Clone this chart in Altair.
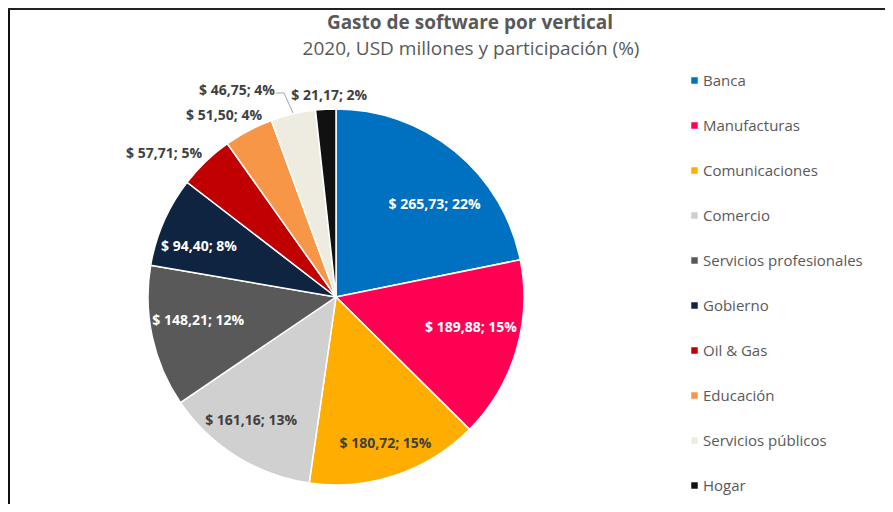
import altair as alt
import pandas as pd

categories = ["Banca", "Manufacturas", "Comunicaciones", "Comercio",
              "Servicios profesionales", "Gobierno", "Oil & Gas",
              "Educación", "Servicios públicos", "Hogar"]
values = [265.73, 189.88, 180.72, 161.16, 148.21, 94.40, 57.71, 51.50, 46.75, 21.17]
shares = [22, 15, 15, 13, 12, 8, 5, 4, 4, 2]
colors = ["#0070C0", "#FF0052", "#FFAD00", "#D0D0D0", "#595959",
          "#0F2441", "#C00000", "#F79646", "#EEECE1", "#111111"]
title_text = "Gasto de software por vertical"
subtitle_text = "2020, USD millones y participación (%)"


def fmt(v, p):
    return "$ " + f"{v:.2f}".replace(".", ",") + f"; {p}%"


df = pd.DataFrame({
    "cat": categories,
    "val": values,
    "order": list(range(len(categories))),
    "label": [fmt(v, p) for v, p in zip(values, shares)],
})

FONT = "Open Sans"
CX, CY, R = 328, 289, 188
WHITE, DARK = "white", "#404040"

base = alt.Chart(df).encode(
    theta=alt.Theta("val:Q", stack=True),
    order=alt.Order("order:Q"),
)

pie = base.mark_arc(radius=R, stroke="white", strokeWidth=1.5).encode(
    x=alt.value(CX), y=alt.value(CY),
    color=alt.Color("cat:N", scale=alt.Scale(domain=categories, range=colors),
                    sort=categories,
                    legend=alt.Legend(title=None, orient="none", legendX=679, legendY=65,
                                      symbolType="square", symbolSize=42,
                                      symbolStrokeWidth=0, labelFont=FONT,
                                      labelFontSize=15, labelColor="#595959",
                                      rowPadding=29, labelOffset=1, padding=0)),
)


def label_layer(cat, radius, color, dx=0, dy=0):
    return base.mark_text(radius=radius, font=FONT, fontSize=14, fontWeight="bold",
                          color=color, dx=dx, dy=dy).encode(
        x=alt.value(CX), y=alt.value(CY), text="label:N",
        opacity=alt.condition(alt.datum.cat == cat, alt.value(1), alt.value(0)),
    )


labels = [
    label_layer("Banca", 143, WHITE, dx=8, dy=19),
    label_layer("Manufacturas", 143, WHITE, dx=-2, dy=-10),
    label_layer("Comunicaciones", 143, DARK, dx=4, dy=11),
    label_layer("Comercio", 143, DARK, dx=-9, dy=3),
    label_layer("Servicios profesionales", 143, WHITE, dx=2, dy=-6),
    label_layer("Gobierno", 143, WHITE, dx=-6, dy=7),
    label_layer("Oil & Gas", 215, DARK, dx=-23, dy=12),
    label_layer("Educación", 215, DARK, dx=-12, dy=9),
    label_layer("Servicios públicos", 215, DARK, dx=-50, dy=3),
    label_layer("Hogar", 215, DARK, dx=5, dy=14),
]

one = pd.DataFrame({"a": [0]})
leader1 = alt.Chart(one).mark_rule(color="#A6A6A6", strokeWidth=1).encode(
    x=alt.value(268), x2=alt.value(276), y=alt.value(85))
leader2 = alt.Chart(one).mark_rule(color="#A6A6A6", strokeWidth=1).encode(
    x=alt.value(276), x2=alt.value(285), y=alt.value(85), y2=alt.value(105))

title = alt.Chart(one).mark_text(font=FONT, fontSize=19, fontWeight="bold",
                                 color="#595959").encode(
    x=alt.value(462), y=alt.value(15), text=alt.value(title_text))
subtitle = alt.Chart(one).mark_text(font=FONT, fontSize=19,
                                    color="#595959").encode(
    x=alt.value(463), y=alt.value(41), text=alt.value(subtitle_text))

border_l = alt.Chart(one).mark_rule(color="#111111", strokeWidth=2).encode(
    x=alt.value(1), y=alt.value(0), y2=alt.value(496))
border_t = alt.Chart(one).mark_rule(color="#222222", strokeWidth=2).encode(
    x=alt.value(0), x2=alt.value(877), y=alt.value(1))

chart = alt.layer(pie, *labels, leader1, leader2, title, subtitle,
                  border_l, border_t).properties(
    width=877, height=496,
    padding=0,
    autosize=alt.AutoSizeParams(type="none"),
).configure_view(stroke=None)

chart.save("out.html", embed_options={"renderer": "svg", "actions": False})
